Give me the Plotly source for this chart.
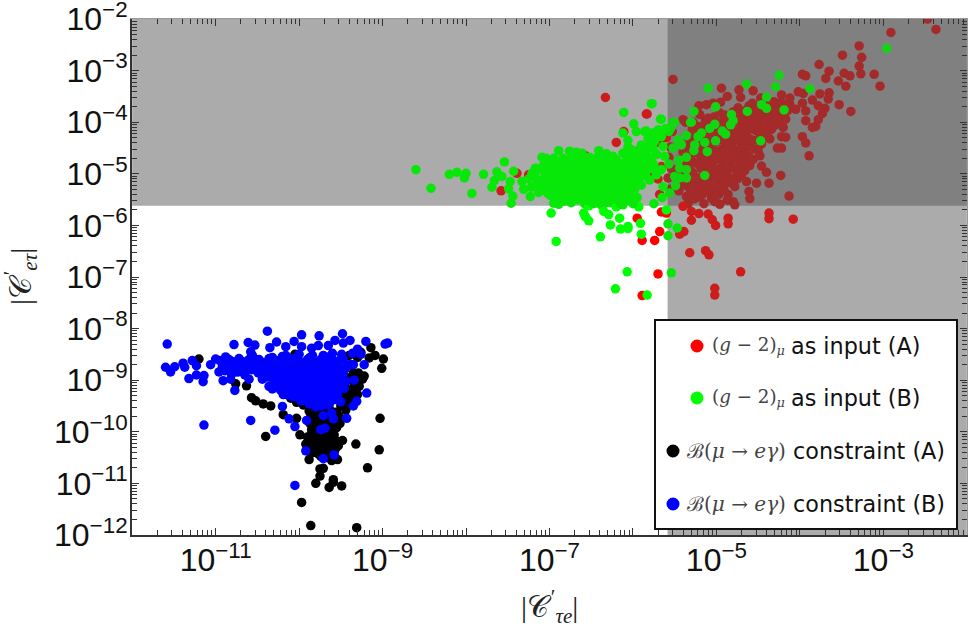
import plotly.graph_objects as go

# |C'_tau e| and |C'_e tau| as (log10 x, log10 y)
red_points = [
(-2.37,-2.20),(-2.47,-2.0),(-2.91,-2.26),(-3.29,-2.52),(-3.49,-2.70),(-3.26,-2.74),(-3.29,-2.91),(-3.27,-3.06),
(-3.77,-2.88),(-3.65,-3.01),(-3.69,-3.15),(-3.97,-3.07),(-3.93,-3.10),(-3.47,-3.05),(-3.40,-3.10),(-3.54,-3.20),(-3.45,-3.30),(-3.11,-3.07),(-3.04,-3.30),
(-5.52,-3.17),(-4.94,-3.34),(-4.73,-3.37),(-4.56,-3.39),(-4.71,-3.52),(-4.87,-3.50),
(-4.02,-3.41),(-3.96,-3.44),(-3.76,-3.45),(-3.65,-3.43),(-3.66,-3.55),(-3.85,-3.57),(-4.22,-3.47),(-4.12,-3.53),(-4.47,-3.53),
(-3.53,-3.66),(-3.39,-3.79),(-3.70,-3.73),(-3.78,-3.68),(-3.97,-3.63),(-4.05,-3.75),(-3.93,-3.78),
(-5.21,-3.68),(-5.12,-3.66),(-5.04,-3.63),(-4.95,-3.61),(-3.73,-3.83),(-3.78,-3.95),(-3.93,-3.97),(-3.85,-4.10),(-3.81,-4.08),
(-4.17,-3.94),(-4.20,-4.10),(-4.22,-4.28),(-4.17,-4.29),(-3.97,-4.28),(-3.93,-4.40),(-3.89,-4.65),
(-4.22,-4.50),(-4.27,-4.50),(-4.23,-5.03),(-4.37,-5.18),(-4.13,-5.43),(-4.08,-5.88),(-4.37,-5.76),(-4.37,-5.87),
(-4.40,-4.97),(-4.46,-4.85),(-4.48,-4.65),(-4.52,-5.18),(-4.60,-5.48),(-4.61,-5.34),(-4.64,-5.15),(-4.78,-5.25),(-4.80,-5.54),
(-4.87,-5.51),(-4.78,-5.60),(-4.96,-5.59),(-5.02,-5.54),(-5.15,-5.58),(-5.34,-5.58),(-5.40,-5.63),(-5.30,-5.73),(-5.21,-5.77),(-5.10,-5.78),(-5.30,-5.90),(-5.05,-5.89),(-5.01,-6.0),(-4.86,-5.86),(-4.86,-5.97),
(-5.13,-6.49),(-5.09,-6.57),(-5.32,-6.53),(-4.71,-6.90),(-5.02,-7.22),(-5.02,-7.35),(-5.39,-6.12),(-5.44,-6.17),
(-5.84,-3.84),(-5.66,-5.74),(-5.60,-5.76),(-5.68,-6.12),(-5.74,-6.29),(-5.89,-6.29),(-5.70,-6.94),(-5.89,-7.36),
(-6.33,-3.52),(-5.83,-3.84),(-6.20,-4.39),(-6.11,-4.18),(-7.39,-4.99),(-7.58,-5.33),(-7.25,-5.02),(-5.95,-5.86),(-5.93,-4.55),(-5.88,-4.54),(-5.37,-4.0),(-6.57,-4.65),(-6.93,-4.90),
(-5.45,-5.33),(-5.43,-5.12),(-5.46,-4.92),(-5.44,-4.72),
(-5.36,-5.44),(-5.34,-5.25),(-5.37,-5.07),(-5.35,-4.86),(-5.33,-4.66),(-5.36,-4.47),(-5.34,-4.30),(-5.40,-3.95),
(-5.27,-5.49),(-5.25,-5.32),(-5.24,-5.15),(-5.28,-4.98),(-5.25,-4.79),(-5.23,-4.60),(-5.26,-4.41),(-5.24,-4.21),(-5.28,-4.00),
(-5.17,-5.40),(-5.15,-5.22),(-5.14,-5.06),(-5.18,-4.90),(-5.16,-4.71),(-5.13,-4.53),(-5.15,-4.33),(-5.17,-4.14),(-5.13,-3.97),(-5.20,-3.85),
(-5.06,-5.47),(-5.05,-5.30),(-5.08,-5.13),(-5.04,-4.97),(-5.07,-4.80),(-5.03,-4.62),(-5.06,-4.44),(-5.04,-4.24),(-5.08,-4.05),(-5.03,-3.90),
(-4.97,-5.40),(-4.95,-5.20),(-4.98,-5.04),(-4.94,-4.87),(-4.96,-4.70),(-4.93,-4.52),(-4.97,-4.34),(-4.95,-4.16),(-4.92,-3.98),(-4.96,-3.82),
(-4.86,-5.40),(-4.85,-5.17),(-4.88,-4.98),(-4.84,-4.80),(-4.87,-4.61),(-4.83,-4.44),(-4.86,-4.26),(-4.84,-4.08),(-4.88,-3.90),(-4.80,-3.80),
(-4.75,-5.10),(-4.77,-4.92),(-4.74,-4.73),(-4.76,-4.55),(-4.73,-4.37),(-4.77,-4.19),(-4.75,-4.00),(-4.72,-3.86),(-4.74,-3.72),
(-4.66,-4.94),(-4.64,-4.76),(-4.67,-4.60),(-4.63,-4.42),(-4.66,-4.25),(-4.64,-4.08),(-4.62,-3.92),(-4.66,-3.78),(-4.61,-3.68),
(-4.56,-4.72),(-4.54,-4.52),(-4.57,-4.35),(-4.53,-4.16),(-4.56,-4.00),(-4.54,-3.86),(-4.52,-3.72),(-4.57,-3.63),
(-4.46,-4.42),(-4.44,-4.25),(-4.47,-4.08),(-4.43,-3.92),(-4.46,-3.80),(-4.42,-3.66),
(-4.36,-4.32),(-4.34,-4.14),(-4.37,-3.98),(-4.33,-3.83),(-4.36,-3.70),(-4.31,-3.60),
(-4.26,-3.98),(-4.24,-3.84),(-4.27,-3.72),(-4.22,-3.62),(-4.15,-3.78),(-4.12,-3.66),
(-5.55,-5.30),(-5.58,-5.08),(-5.54,-4.90),(-5.57,-4.68),(-5.55,-4.48),(-5.60,-4.30),(-5.53,-4.18),
(-5.68,-5.40),(-5.70,-5.10),(-5.66,-4.86),(-5.72,-4.62),(-5.68,-4.40),(-5.80,-5.05),(-5.84,-4.70),
(-5.41,-5.22),(-5.40,-5.02),(-5.41,-4.80),(-5.40,-4.58),(-5.31,-5.36),(-5.30,-5.16),(-5.31,-4.94),(-5.30,-4.74),(-5.29,-4.52),(-5.30,-4.34),(-5.29,-4.14),
(-5.21,-5.45),(-5.20,-5.26),(-5.21,-5.08),(-5.20,-4.84),(-5.19,-4.64),(-5.21,-4.46),(-5.20,-4.26),(-5.21,-4.08),(-5.10,-5.35),(-5.11,-5.18),(-5.10,-5.00),(-5.12,-4.84),(-5.10,-4.66),(-5.11,-4.47),(-5.09,-4.28),(-5.11,-4.10),(-5.10,-3.92),
(-5.01,-5.44),(-5.00,-5.25),(-5.01,-5.08),(-5.00,-4.92),(-5.02,-4.74),(-5.00,-4.56),(-5.01,-4.38),(-5.00,-4.20),(-5.00,-4.00),
(-4.91,-5.30),(-4.90,-5.10),(-4.91,-4.94),(-4.90,-4.75),(-4.91,-4.56),(-4.90,-4.38),(-4.91,-4.20),(-4.90,-4.04),(-4.90,-3.86),
(-4.80,-5.08),(-4.81,-4.88),(-4.80,-4.68),(-4.81,-4.50),(-4.80,-4.32),(-4.81,-4.14),(-4.80,-3.92),
(-4.70,-5.02),(-4.71,-4.84),(-4.70,-4.66),(-4.70,-4.48),(-4.71,-4.30),(-4.70,-4.12),(-4.70,-3.95),(-4.68,-3.82),
(-4.60,-4.84),(-4.61,-4.66),(-4.60,-4.48),(-4.60,-4.32),(-4.61,-4.14),(-4.60,-3.98),(-4.59,-3.82),
(-4.50,-4.55),(-4.51,-4.34),(-4.50,-4.18),(-4.49,-4.02),(-4.50,-3.86),(-4.49,-3.72),
(-4.40,-4.28),(-4.41,-4.12),(-4.40,-3.94),(-4.39,-3.78),(-4.30,-4.06),(-4.29,-3.90),(-4.30,-3.76),
]

green_points = [
(-8.60,-4.92),(-8.42,-5.28),(-8.20,-5.01),(-8.11,-4.97),(-8.0,-4.99),(-8.02,-5.08),(-7.93,-5.38),(-7.79,-5.01),
(-7.63,-4.96),(-7.69,-5.26),(-7.66,-5.13),(-7.57,-5.05),(-7.49,-5.29),(-7.47,-5.15),(-7.54,-4.77),(-7.43,-4.95),(-7.44,-5.43),(-7.46,-5.57),
(-7.33,-5.15),(-7.31,-5.30),(-7.23,-5.44),(-7.17,-4.89),(-7.21,-4.99),(-7.09,-4.68),(-7.04,-4.70),(-6.95,-4.70),(-6.89,-4.55),
(-6.98,-5.76),(-6.92,-6.31),(-6.95,-5.57),(-6.89,-5.59),(-6.76,-4.56),(-6.68,-4.58),(-6.61,-4.60),(-6.41,-4.55),(-6.32,-4.61),
(-6.59,-5.76),(-6.57,-5.83),(-6.53,-5.91),(-6.35,-5.73),(-6.29,-5.79),(-6.16,-5.86),(-6.27,-5.99),(-6.15,-6.07),(-6.06,-6.02),(-6.06,-6.06),(-6.39,-6.22),
(-5.91,-5.96),(-5.90,-6.17),(-5.58,-5.97),(-5.58,-6.20),(-5.47,-6.05),(-6.07,-6.90),(-6.21,-7.23),(-5.83,-7.35),(-5.54,-6.92),
(-5.77,-3.64),(-6.11,-3.81),(-5.66,-3.94),(-5.99,-4.03),(-5.96,-4.18),(-6.12,-4.21),(-6.06,-4.35),(-5.84,-4.17),(-5.81,-4.31),(-5.69,-4.15),(-5.50,-4.0),(-5.55,-4.12),(-5.30,-4.0),
(-2.96,-2.57),(-4.25,-3.09),(-4.29,-3.31),(-4.64,-3.26),(-3.88,-3.35),(-5.10,-3.34),(-4.40,-3.51),(-5.01,-3.70),(-5.27,-3.79),
(-4.46,-3.66),(-4.40,-3.73),(-4.63,-3.79),(-4.19,-3.76),(-4.82,-3.85),(-4.80,-3.97),(-4.83,-4.05),(-5.31,-4.0),(-5.78,-3.64),(-5.67,-3.94),
(-5.52,-4.0),(-5.54,-4.08),(-5.57,-4.18),(-5.02,-4.04),(-5.08,-4.12),(-5.18,-4.21),(-5.22,-4.28),(-4.93,-4.17),(-4.89,-4.23),
(-5.36,-4.26),(-5.46,-4.34),(-5.42,-4.44),(-4.47,-4.36),(-5.01,-4.36),(-5.14,-4.39),(-5.26,-4.44),(-5.27,-4.55),(-5.11,-4.57),
(-5.14,-5.03),(-5.36,-4.92),(-5.36,-5.08),(-5.44,-4.89),(-5.50,-5.05),(-5.44,-5.08),(-5.49,-5.23),(-5.36,-4.68),(-5.45,-4.73),(-5.57,-4.81),
(-5.56,-5.37),(-5.64,-5.25),(-5.65,-5.46),(-5.86,-4.18),(-5.76,-4.21),(-5.70,-4.15),(-5.82,-4.31),(-5.76,-4.50),(-5.64,-4.47),(-5.52,-4.50),
(-7.25,-5.10),(-7.22,-5.26),(-7.18,-5.05),(-7.15,-5.20),(-7.12,-4.92),(-7.13,-5.36),
(-7.08,-4.85),(-7.05,-5.02),(-7.07,-5.18),(-7.04,-5.33),(-7.00,-4.78),(-6.98,-4.95),(-7.00,-5.12),(-6.97,-5.27),(-6.99,-5.42),
(-6.92,-4.82),(-6.90,-5.00),(-6.93,-5.16),(-6.90,-5.32),(-6.92,-5.47),(-6.84,-4.70),(-6.82,-4.88),(-6.85,-5.05),(-6.83,-5.22),(-6.85,-5.38),(-6.82,-5.53),
(-6.76,-4.72),(-6.74,-4.90),(-6.77,-5.08),(-6.74,-5.24),(-6.76,-5.40),(-6.74,-5.56),(-6.68,-4.70),(-6.66,-4.86),(-6.69,-5.02),(-6.66,-5.18),(-6.68,-5.34),(-6.66,-5.50),
(-6.60,-4.74),(-6.58,-4.92),(-6.61,-5.10),(-6.58,-5.26),(-6.60,-5.42),(-6.58,-5.58),(-6.52,-4.68),(-6.50,-4.84),(-6.53,-5.00),(-6.50,-5.16),(-6.52,-5.32),(-6.50,-5.48),(-6.53,-5.62),
(-6.44,-4.70),(-6.42,-4.88),(-6.45,-5.06),(-6.42,-5.22),(-6.44,-5.38),(-6.42,-5.54),(-6.36,-4.66),(-6.34,-4.82),(-6.37,-5.00),(-6.34,-5.16),(-6.36,-5.32),(-6.34,-5.48),(-6.37,-5.62),
(-6.28,-4.74),(-6.26,-4.92),(-6.29,-5.08),(-6.26,-5.24),(-6.28,-5.40),(-6.26,-5.56),(-6.20,-4.72),(-6.18,-4.88),(-6.21,-5.04),(-6.18,-5.20),(-6.20,-5.36),(-6.18,-5.52),(-6.20,-5.64),
(-6.12,-4.60),(-6.10,-4.78),(-6.13,-4.96),(-6.10,-5.12),(-6.12,-5.28),(-6.10,-5.44),(-6.12,-5.60),(-6.06,-4.48),(-6.04,-4.68),(-6.07,-4.86),(-6.04,-5.02),(-6.06,-5.20),(-6.04,-5.36),(-6.06,-5.50),
(-5.98,-4.62),(-5.96,-4.80),(-5.99,-4.98),(-5.96,-5.14),(-5.98,-5.30),(-5.95,-5.46),(-5.93,-5.64),(-5.90,-4.44),(-5.88,-4.66),(-5.91,-4.84),(-5.88,-5.04),(-5.90,-5.22),
(-5.82,-4.48),(-5.80,-4.72),(-5.83,-4.92),(-5.80,-5.12),(-5.74,-4.36),(-5.72,-4.62),(-5.75,-4.82),(-5.72,-5.02),(-5.66,-4.28),(-5.62,-4.66),(-5.66,-4.92),(-5.61,-4.12),(-5.60,-5.70),(-5.75,-5.58),
(-7.10,-5.12),(-7.10,-5.28),(-7.02,-4.88),(-7.02,-5.05),(-7.02,-5.20),(-7.02,-5.38),(-6.94,-4.90),(-6.95,-5.08),(-6.95,-5.24),(-6.95,-5.40),(-6.87,-4.78),(-6.87,-4.96),(-6.88,-5.12),(-6.88,-5.28),(-6.87,-5.45),
(-6.80,-4.80),(-6.79,-4.98),(-6.80,-5.14),(-6.79,-5.30),(-6.80,-5.47),(-6.71,-4.78),(-6.72,-4.95),(-6.71,-5.12),(-6.72,-5.28),(-6.71,-5.45),(-6.64,-4.78),(-6.63,-4.96),(-6.64,-5.14),(-6.63,-5.30),(-6.64,-5.46),
(-6.56,-4.70),(-6.55,-4.86),(-6.56,-5.04),(-6.55,-5.20),(-6.56,-5.36),(-6.55,-5.52),(-6.48,-4.76),(-6.47,-4.94),(-6.48,-5.10),(-6.47,-5.26),(-6.48,-5.44),(-6.47,-5.58),(-6.40,-4.62),(-6.39,-4.78),(-6.40,-4.96),(-6.39,-5.12),(-6.40,-5.28),(-6.39,-5.44),(-6.40,-5.58),
(-6.31,-4.72),(-6.32,-4.90),(-6.31,-5.06),(-6.32,-5.24),(-6.31,-5.40),(-6.32,-5.56),(-6.24,-4.66),(-6.23,-4.84),(-6.24,-5.00),(-6.23,-5.16),(-6.24,-5.32),(-6.23,-5.48),(-6.16,-4.80),(-6.15,-4.96),(-6.16,-5.12),(-6.15,-5.28),(-6.16,-5.44),(-6.15,-5.58),
(-6.08,-4.60),(-6.08,-4.76),(-6.09,-4.94),(-6.08,-5.10),(-6.09,-5.26),(-6.01,-4.54),(-6.00,-4.72),(-6.02,-4.90),(-6.00,-5.08),(-6.01,-5.26),(-6.00,-5.42),(-6.00,-5.58),
(-5.93,-4.56),(-5.93,-4.72),(-5.93,-4.92),(-5.93,-5.10),(-5.85,-4.58),(-5.85,-4.80),(-5.85,-5.00),(-5.77,-4.48),(-5.77,-4.68),(-5.77,-4.90),
]

black_points = [
(-11.2,-8.59),(-10.76,-9.07),(-10.63,-9.11),(-10.57,-9.34),(-10.52,-9.40),(-10.43,-9.46),(-10.34,-9.50),(-10.19,-9.67),(-10.03,-9.43),(-10.03,-9.74),(-10.40,-10.09),(-9.99,-10.06),
(-9.14,-8.37),(-9.09,-8.52),(-9.16,-8.57),(-8.99,-8.59),(-9.01,-8.77),(-9.29,-8.86),(-9.22,-8.92),(-9.24,-8.98),(-9.03,-9.74),(-9.04,-10.35),(-9.32,-10.24),(-9.18,-10.70),
(-9.48,-10.17),(-9.53,-10.27),(-9.54,-10.54),(-9.61,-10.56),(-9.88,-10.54),(-9.75,-10.72),(-9.71,-10.71),(-9.75,-10.86),(-9.80,-11.0),(-9.59,-10.93),(-9.64,-11.08),(-9.59,-10.98),(-9.49,-11.05),
(-9.97,-11.37),(-9.86,-11.82),(-9.31,-11.86),
(-9.88,-9.60),(-9.84,-9.72),(-9.87,-9.84),(-9.85,-9.96),(-9.90,-10.10),(-9.92,-10.24),(-9.88,-10.34),
(-9.80,-9.55),(-9.78,-9.70),(-9.81,-9.82),(-9.78,-9.95),(-9.82,-10.06),(-9.79,-10.18),(-9.82,-10.30),(-9.78,-10.42),
(-9.72,-9.60),(-9.70,-9.76),(-9.73,-9.88),(-9.70,-10.02),(-9.72,-10.14),(-9.69,-10.26),(-9.72,-10.38),(-9.68,-10.50),
(-9.64,-9.55),(-9.62,-9.72),(-9.65,-9.86),(-9.62,-9.98),(-9.64,-10.12),(-9.61,-10.24),(-9.64,-10.36),(-9.60,-10.46),
(-9.57,-9.80),(-9.55,-9.92),(-9.58,-10.06),(-9.55,-10.18),(-9.56,-10.32),
(-9.50,-8.90),(-9.46,-9.05),(-9.42,-9.18),(-9.46,-9.30),(-9.40,-9.38),(-9.50,-9.50),(-9.55,-9.62),
(-9.38,-8.70),(-9.35,-8.86),(-9.38,-9.00),(-9.34,-9.14),(-9.30,-9.28),(-9.36,-9.22),
(-9.30,-8.56),(-9.40,-8.52),(-9.26,-8.46),
(-10.05,-8.50),(-9.95,-9.48),(-9.90,-9.45),(-10.10,-9.35),(-10.24,-8.62),
(-9.86,-9.66),(-9.83,-9.88),(-9.85,-10.04),(-9.85,-10.16),(-9.86,-10.42),(-9.76,-9.62),(-9.75,-9.78),(-9.76,-9.90),(-9.75,-10.06),(-9.76,-10.26),(-9.74,-10.48),
(-9.68,-9.66),(-9.67,-9.82),(-9.67,-9.94),(-9.66,-10.06),(-9.66,-10.20),(-9.66,-10.42),(-9.59,-9.62),(-9.59,-9.92),(-9.60,-10.14),(-9.58,-10.28),(-9.58,-10.40),(-9.52,-9.70),(-9.51,-9.84),
(-9.44,-9.44),(-9.38,-9.34),(-9.44,-8.94),(-9.32,-8.98),(-9.28,-9.12),(-9.44,-9.58),
]

blue_points = [
(-11.58,-8.30),(-11.60,-8.75),(-11.54,-8.84),(-11.49,-8.74),(-11.39,-8.67),(-11.37,-8.75),(-11.28,-8.62),(-11.23,-8.72),(-11.32,-8.97),(-11.23,-8.90),(-11.15,-9.03),(-11.14,-8.91),(-11.14,-9.87),
(-11.06,-8.70),(-11.0,-8.59),(-10.91,-9.01),(-10.82,-8.98),(-10.77,-9.20),(-10.78,-8.31),(-10.58,-9.78),(-10.38,-8.05),(-10.61,-8.27),(-10.53,-8.32),(-10.58,-8.45),(-10.29,-9.97),(-10.05,-11.04),
(-9.97,-8.12),(-9.76,-8.14),(-9.48,-8.10),(-9.2,-8.25),(-8.97,-8.30),(-8.94,-8.28),(-9.19,-9.25),(-9.22,-8.70),(-9.34,-9.0),(-9.31,-9.41),(-9.35,-9.50),(-9.43,-9.74),
(-9.59,-9.75),(-9.61,-9.64),(-9.71,-9.69),(-9.74,-9.96),(-9.69,-9.93),(-9.92,-10.37),(-9.71,-10.52),(-9.58,-10.45),(-10.05,-9.90),(-10.12,-9.75),(-9.91,-9.78),(-10.2,-9.51),
(-10.27,-8.26),(-10.16,-8.35),(-10.06,-8.25),(-9.97,-8.35),(-10.35,-8.37),(-9.85,-8.38),(-9.77,-8.33),(-9.65,-8.33),(-9.57,-8.23),(-9.39,-8.23),(-9.47,-8.28),(-9.30,-8.40),(-9.49,-8.50),(-9.39,-8.70),(-9.35,-8.70),
(-10.95,-8.62),(-10.92,-8.74),(-10.96,-8.84),(-10.88,-8.55),(-10.86,-8.68),(-10.89,-8.82),(-10.80,-8.64),(-10.78,-8.76),(-10.81,-8.88),(-10.72,-8.58),(-10.70,-8.72),(-10.73,-8.84),
(-10.64,-8.66),(-10.62,-8.78),(-10.65,-8.90),(-10.56,-8.52),(-10.54,-8.68),(-10.57,-8.80),(-10.60,-8.98),(-10.48,-8.60),(-10.46,-8.74),(-10.49,-8.86),(-10.44,-8.98),
(-10.38,-8.66),(-10.41,-8.80),(-10.38,-8.94),(-10.36,-9.12),(-10.32,-8.56),(-10.30,-8.72),(-10.33,-8.88),(-10.30,-9.02),(-10.32,-9.17),
(-10.22,-8.62),(-10.25,-8.78),(-10.22,-8.92),(-10.24,-9.06),(-10.22,-9.20),(-10.16,-8.52),(-10.14,-8.68),(-10.17,-8.84),(-10.14,-8.98),(-10.16,-9.14),(-10.14,-9.28),
(-10.06,-8.60),(-10.09,-8.76),(-10.06,-8.90),(-10.08,-9.04),(-10.06,-9.18),(-10.08,-9.32),(-10.00,-8.50),(-9.98,-8.66),(-10.01,-8.82),(-9.98,-8.96),(-10.00,-9.10),(-9.98,-9.26),(-9.98,-9.40),
(-9.90,-8.60),(-9.93,-8.76),(-9.90,-8.90),(-9.92,-9.04),(-9.90,-9.20),(-9.92,-9.34),(-9.88,-9.46),(-9.84,-8.52),(-9.82,-8.68),(-9.85,-8.84),(-9.82,-8.98),(-9.84,-9.12),(-9.82,-9.28),(-9.84,-9.44),(-9.80,-9.52),
(-9.74,-8.60),(-9.77,-8.76),(-9.74,-8.90),(-9.76,-9.04),(-9.74,-9.20),(-9.76,-9.36),(-9.74,-9.50),(-9.66,-8.62),(-9.69,-8.78),(-9.66,-8.92),(-9.68,-9.06),(-9.66,-9.22),(-9.68,-9.38),(-9.66,-9.48),
(-9.60,-8.48),(-9.58,-8.64),(-9.61,-8.80),(-9.58,-8.94),(-9.60,-9.08),(-9.58,-9.24),(-9.60,-9.38),(-9.52,-8.62),(-9.50,-8.78),(-9.53,-8.96),(-9.52,-9.14),(-9.54,-9.30),(-9.50,-9.42),(-9.44,-8.76),(-9.44,-9.02),(-9.46,-9.16),(-9.26,-8.50),(-9.36,-8.48),
(-10.90,-8.68),(-10.84,-8.76),(-10.84,-8.60),(-10.76,-8.68),(-10.76,-8.84),(-10.68,-8.64),(-10.68,-8.78),(-10.60,-8.72),(-10.60,-8.60),(-10.52,-8.76),(-10.52,-8.62),(-10.44,-8.82),(-10.44,-8.66),
(-10.36,-8.58),(-10.36,-8.74),(-10.35,-8.88),(-10.28,-8.64),(-10.28,-8.80),(-10.28,-8.96),(-10.27,-9.10),(-10.20,-8.54),(-10.19,-8.70),(-10.19,-8.86),(-10.20,-9.00),(-10.19,-9.14),(-10.19,-9.28),
(-10.11,-8.58),(-10.11,-8.74),(-10.12,-8.90),(-10.11,-9.06),(-10.11,-9.22),(-10.03,-8.56),(-10.03,-8.72),(-10.03,-8.88),(-10.04,-9.02),(-10.03,-9.16),(-10.03,-9.32),
(-9.95,-8.68),(-9.95,-8.84),(-9.95,-8.98),(-9.95,-9.14),(-9.95,-9.30),(-9.87,-8.56),(-9.87,-8.72),(-9.87,-8.88),(-9.87,-9.04),(-9.87,-9.20),(-9.87,-9.36),
(-9.79,-8.66),(-9.79,-8.82),(-9.79,-8.98),(-9.79,-9.14),(-9.79,-9.30),(-9.79,-9.44),(-9.71,-8.52),(-9.71,-8.68),(-9.71,-8.84),(-9.71,-9.00),(-9.71,-9.14),(-9.71,-9.30),(-9.71,-9.44),
(-9.63,-8.54),(-9.63,-8.70),(-9.63,-8.86),(-9.63,-9.00),(-9.63,-9.16),(-9.63,-9.32),(-9.63,-9.44),(-9.55,-8.70),(-9.55,-8.86),(-9.55,-9.04),(-9.56,-9.22),(-9.55,-9.38),(-9.47,-8.60),(-9.47,-8.86),(-9.47,-9.08),
]

x_decades = [-12, -11, -10, -9, -8, -7, -6, -5, -4, -3, -2]
x_labels = ["", "10<sup>\u221211</sup>", "", "10<sup>\u22129</sup>", "", "10<sup>\u22127</sup>", "", "10<sup>\u22125</sup>", "", "10<sup>\u22123</sup>", ""]
y_decades = [-12, -11, -10, -9, -8, -7, -6, -5, -4, -3, -2]
y_labels = ["10<sup>\u2212%d</sup>" % -d for d in y_decades]
x_limit = 2.6e-6
y_limit = 2.4e-6

legend_rows = [
    ("#ff0000", "(<i>g</i> \u2212 2)<sub><i>\u03bc</i></sub>", 18.3, "as input (A)", 697, 346, 787, 789),
    ("#00ff00", "(<i>g</i> \u2212 2)<sub><i>\u03bc</i></sub>", 18.3, "as input (B)", 697, 398, 787, 789),
    ("#000000", "\u212c(<i>\u03bc</i> \u2192 <i>e\u03b3</i>)", 20, "constraint (A)", 673, 451, 788, 791),
    ("#0000ff", "\u212c(<i>\u03bc</i> \u2192 <i>e\u03b3</i>)", 20, "constraint (B)", 673, 504, 788, 791),
]

# page pixels of the plot area
L, R, T, B = 132, 967, 19, 535
def px(v): return (v - L) / (R - L)
def py(v): return (B - v) / (B - T)

def zone_colors(points, plain, light, dark):
    out = []
    for a, b in points:
        right = 10**a >= x_limit
        up = 10**b >= y_limit
        out.append(dark if right and up else light if right or up else plain)
    return out

fig = go.Figure()
for pts, cols in [
    (red_points, ("#ff0000", "rgb(204,28,28)", "rgb(165,42,42)")),
    (black_points, ("#000000",) * 3),
    (green_points, ("#00ff00", "rgb(8,232,8)", "rgb(18,214,18)")),
    (blue_points, ("#0000ff",) * 3),
]:
    fig.add_trace(go.Scatter(
        x=[10**a for a, _ in pts], y=[10**b for _, b in pts], mode="markers",
        marker=dict(size=9.5, color=zone_colors(pts, *cols), line=dict(width=0)),
        showlegend=False, hoverinfo="skip"))
fig.add_trace(go.Scatter(x=[], y=[], xaxis="x2", yaxis="y2", showlegend=False, hoverinfo="skip"))

minor_vals = [m * 10.0**d for d in range(-12, -2) for m in range(2, 10)]
axis_range = [-12.002, -1.998]
base = dict(type="log", range=axis_range, showgrid=False, zeroline=False, showline=True, automargin=False,
            ticks="inside", ticklen=7, tickwidth=1, tickcolor="#333",
            minor=dict(tickmode="array", tickvals=minor_vals, ticks="inside", ticklen=5,
                       tickwidth=1, tickcolor="#333", showgrid=False),
            tickmode="array", layer="above traces")
main = dict(base, linecolor="#333", linewidth=2, ticklabeloverflow="allow", ticklabelstandoff=-4,
            tickfont=dict(family="Liberation Sans", size=32, color="#111"))
mirror = dict(base, linecolor="#999", linewidth=1, showticklabels=False)
decade_vals = [10.0**d for d in x_decades]
fig.update_layout(
    xaxis=dict(main, tickvals=decade_vals, ticktext=x_labels),
    yaxis=dict(main, tickvals=[10.0**d for d in y_decades], ticktext=y_labels),
    xaxis2=dict(mirror, tickvals=decade_vals, overlaying="x", side="top", anchor="y2"),
    yaxis2=dict(mirror, tickvals=decade_vals, overlaying="y", side="right", anchor="x2"),
)

shapes = [
    dict(type="rect", xref="x", yref="y", x0=1e-12, x1=1e-2, y0=y_limit, y1=1e-2,
         fillcolor="#ababab", line_width=0, layer="below"),
    dict(type="rect", xref="x", yref="y", x0=x_limit, x1=1e-2, y0=1e-12, y1=1e-2,
         fillcolor="#ababab", line_width=0, layer="below"),
    dict(type="rect", xref="x", yref="y", x0=x_limit, x1=1e-2, y0=y_limit, y1=1e-2,
         fillcolor="#808080", line_width=0, layer="below"),
    dict(type="rect", xref="paper", yref="paper", x0=px(655), x1=px(957), y0=py(529), y1=py(320),
         fillcolor="white", line=dict(color="#111", width=2), layer="above"),
]
annotations = []
for color, math, msize, text, mx, my, mathx, textx in legend_rows:
    shapes.append(dict(type="circle", xref="paper", yref="paper", x0=px(mx - 6.5), x1=px(mx + 6.5),
                       y0=py(my + 6.5), y1=py(my - 6.5), fillcolor=color, line_width=0, layer="above"))
    annotations.append(dict(xref="paper", yref="paper", x=px(mathx), y=py(my), xanchor="right", yanchor="middle",
                            text=math, showarrow=False, font=dict(family="DejaVu Serif", size=msize, color="#444")))
    annotations.append(dict(xref="paper", yref="paper", x=px(textx), y=py(my), xanchor="left", yanchor="middle",
                            text=text, showarrow=False, font=dict(family="DejaVu Sans", size=22.3, color="#111")))
title_font = dict(family="Liberation Serif, DejaVu Serif", size=30, color="#222")
annotations.append(dict(xref="paper", yref="paper", x=px(549), y=py(606), xanchor="center", yanchor="middle",
                        text="|\U0001d49e<sup>\u200a\u2032</sup><sub><i>\u03c4e</i></sub>|", showarrow=False, font=title_font))
annotations.append(dict(xref="paper", yref="paper", x=px(20), y=py(277), xanchor="center", yanchor="middle",
                        textangle=-90, text="|\U0001d49e<sup>\u200a\u2032</sup><sub><i>e\u03c4</i></sub>|", showarrow=False,
                        font=title_font))

fig.update_layout(width=972, height=629, margin=dict(l=L, r=972 - R, t=T, b=629 - B, pad=0),
                  paper_bgcolor="white", plot_bgcolor="white", shapes=shapes, annotations=annotations,
                  showlegend=False)
fig.write_html("out.html", config={"displayModeBar": False}, post_script="document.body.style.margin='0';")
